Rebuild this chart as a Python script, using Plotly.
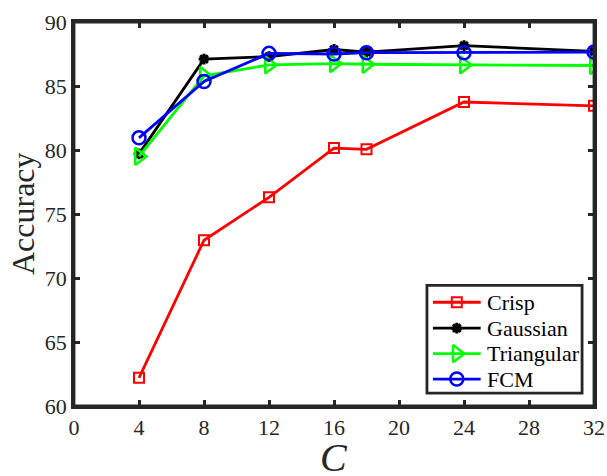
import plotly.graph_objects as go

C = [4, 8, 12, 16, 18, 24, 32]
crisp = [62.2, 72.95, 76.3, 80.15, 80.05, 83.75, 83.45]
gaussian = [79.7, 87.1, 87.3, 87.85, 87.65, 88.15, 87.7]
triangular = [79.5, 85.8, 86.65, 86.75, 86.7, 86.65, 86.6]
fcm = [80.95, 85.35, 87.55, 87.5, 87.6, 87.6, 87.65]
xticks = [0, 4, 8, 12, 16, 20, 24, 28, 32]
yticks = [60, 65, 70, 75, 80, 85, 90]
names = ["Crisp", "Gaussian", "Triangular", "FCM"]

FONT = "Liberation Serif, Times New Roman, serif"
AX = "#262626"
W, H = 607, 476
ML, MR, MT, MB = 74, 10, 21, 70
XR, YR = [0, 32], [60, 90]

def px2x(px):
    return XR[0] + (px - ML) / (W - MR - ML) * (XR[1] - XR[0])

def py2y(py):
    return YR[0] + (H - MB - py) / (H - MB - MT) * (YR[1] - YR[0])

styles = [
    ("#ff0000", dict(symbol="square-open", size=10, line=dict(width=2))),
    ("#000000", dict(symbol="asterisk-open", size=9, line=dict(width=3, color="#000000"))),
    ("#00ff00", dict(symbol="triangle-right-open", size=15, line=dict(width=2.5))),
    ("#0000ff", dict(symbol="circle-open", size=13, line=dict(width=2.5))),
]
data = [crisp, gaussian, triangular, fcm]

fig = go.Figure()
for name, y, (col, mk) in zip(names, data, styles):
    mk = dict(mk)
    mk["color"] = col
    fig.add_trace(go.Scatter(x=C, y=y, name=name, mode="lines+markers",
                             line=dict(color=col, width=2.8), marker=mk, showlegend=False))

axis_common = dict(showline=True, linecolor=AX, linewidth=2.8, mirror="ticks",
                   ticks="inside", ticklen=6, tickwidth=2.5, tickcolor=AX,
                   showgrid=False, zeroline=False,
                   tickfont=dict(family=FONT, size=22, color=AX))
fig.update_xaxes(range=XR, tickvals=xticks, automargin=False, ticklabeloverflow="allow",
                 **axis_common)
fig.update_yaxes(range=YR, tickvals=yticks, **axis_common)

# plot frame
fig.add_shape(type="rect", xref="paper", yref="paper", x0=0, x1=1, y0=0, y1=1,
              line=dict(color=AX, width=2.8), layer="above")

# axis titles
fig.add_annotation(x=0.5, y=0, xref="paper", yref="paper", text="<i>C</i>", showarrow=False,
                   xanchor="center", yanchor="middle", yshift=-51,
                   font=dict(family=FONT, size=40, color=AX))
fig.add_annotation(x=0, y=0.5, xref="paper", yref="paper", text="Accuracy", showarrow=False,
                   xanchor="center", yanchor="middle", xshift=-51, textangle=-90,
                   font=dict(family=FONT, size=32, color=AX))

# legend box (positions given in page pixels, converted to axis units)
fig.add_shape(type="rect", xref="x", yref="y",
              x0=px2x(429), x1=px2x(585), y0=py2y(393), y1=py2y(285),
              line=dict(color=AX, width=2.8), fillcolor="white", layer="below")
row_y = [302, 328, 353.5, 379]
for name, ry, (col, mk) in zip(names, row_y, styles):
    mk = dict(mk)
    mk["color"] = col
    yy = py2y(ry)
    fig.add_trace(go.Scatter(x=[px2x(435), px2x(483)], y=[yy, yy],
                             mode="lines", line=dict(color=col, width=2.8),
                             showlegend=False, hoverinfo="skip"))
    fig.add_trace(go.Scatter(x=[px2x(459)], y=[yy],
                             mode="markers", marker=mk, showlegend=False, hoverinfo="skip"))
    fig.add_annotation(x=px2x(487), y=yy, text=name, showarrow=False,
                       xanchor="left", yanchor="middle",
                       font=dict(family=FONT, size=22, color="#000000"))

fig.update_layout(
    width=W, height=H,
    margin=dict(l=ML, r=MR, t=MT, b=MB),
    plot_bgcolor="white", paper_bgcolor="white",
    showlegend=False,
)
fig.write_html("out.html")
